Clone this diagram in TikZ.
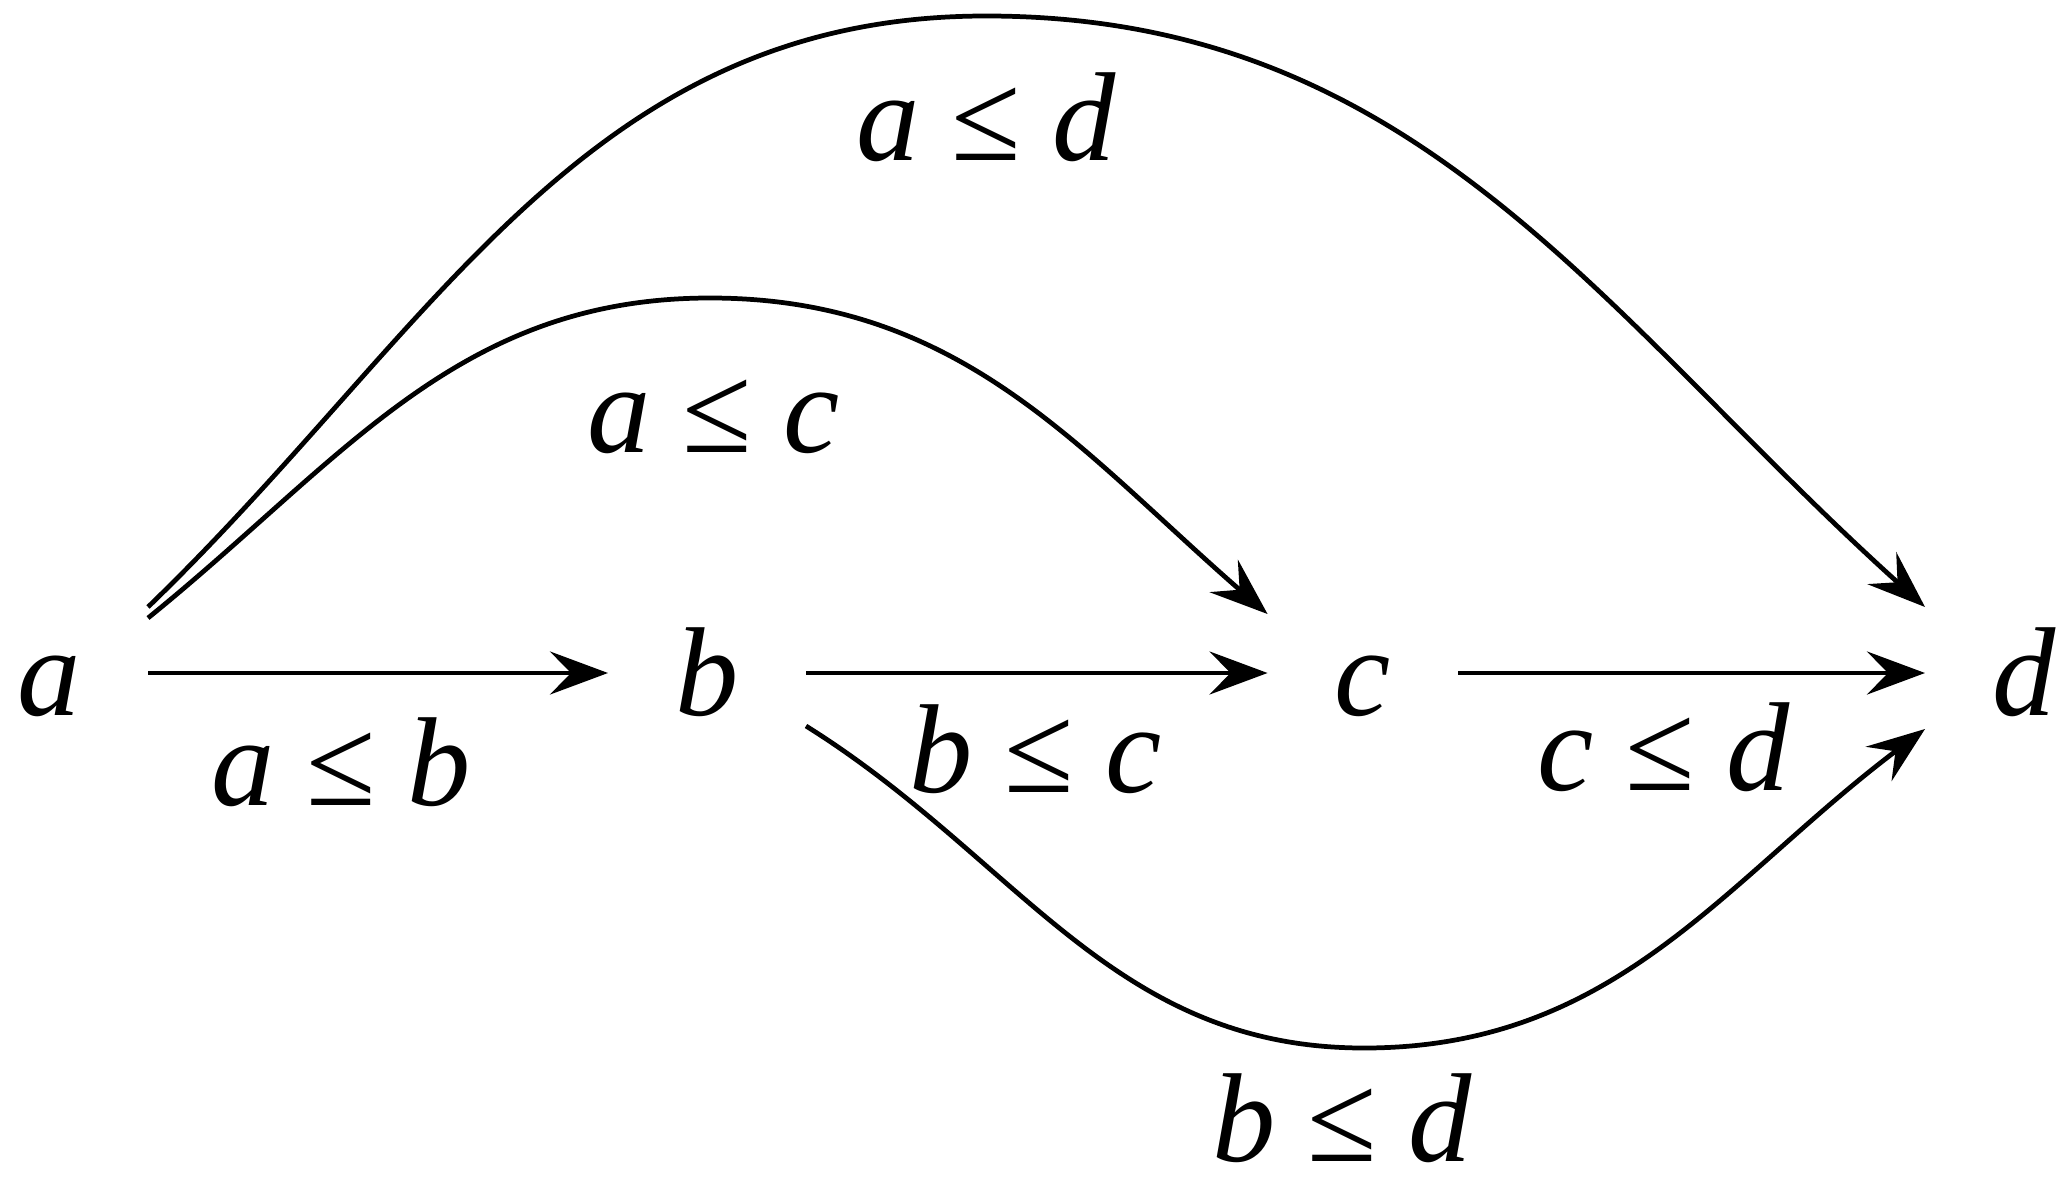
\documentclass[tikz,border=0pt]{standalone}
\usepackage{fontspec}
\setmainfont{Liberation Serif}
\usetikzlibrary{arrows.meta,calc}

\begin{document}
\begin{tikzpicture}[line width=1.35pt,
  every node/.style={font=\fontsize{36}{43}\selectfont\itshape},
  elem/.style={anchor=base, inner xsep=0.65cm, inner ysep=0pt, text height=0.84cm, text depth=0cm},
  rel/.style={anchor=base, inner sep=0pt},
  ord/.style={-{Stealth[length=0.58cm,width=0.43cm,inset=0.21cm]}}]
  \useasboundingbox (0,0) rectangle (20.61,11.85);
  % elements
  \node (a) [elem] at (0.49,4.70) {a};
  \node (b) [elem] at (7.07,4.70) {b};
  \node (c) [elem] at (13.63,4.70) {c};
  \node (d) [elem] at (20.24,4.70) {d};
  % relations
  \node (ab) [rel] at (3.41,3.80) {a \textup{≤} b};
  \node (bc) [rel] at (10.36,3.93) {b \textup{≤} c};
  \node (cd) [rel] at (16.64,3.95) {c \textup{≤} d};
  \node (ac) [rel] at (7.14,7.33) {a \textup{≤} c};
  \node (ad) [rel] at (9.86,10.25) {a \textup{≤} d};
  \node (bd) [rel] at (13.42,0.24) {b \textup{≤} d};
  \coordinate (adtop) at (9.86,11.69);
  \coordinate (actop) at (7.10,8.87);
  \coordinate (bdlow) at (13.64,1.37);
  % arrows
  \draw[ord] (a) -- (b);
  \draw[ord] (b) -- (c);
  \draw[ord] (c) -- (d);
  \draw[ord] ($(a.east)+(0,0.66)$) to[out=44,in=180] (adtop) to[out=0,in=138] ($(d.west)+(0,0.66)$);
  \draw[ord] ($(a.east)+(0,0.55)$) to[out=39,in=180] (actop) to[out=0,in=139] ($(c.west)+(0,0.59)$);
  \draw[ord] ($(b.east)+(0,-0.53)$) to[out=-32,in=180] (bdlow) to[out=0,in=-143] ($(d.west)+(0,-0.56)$);
\end{tikzpicture}
\end{document}
